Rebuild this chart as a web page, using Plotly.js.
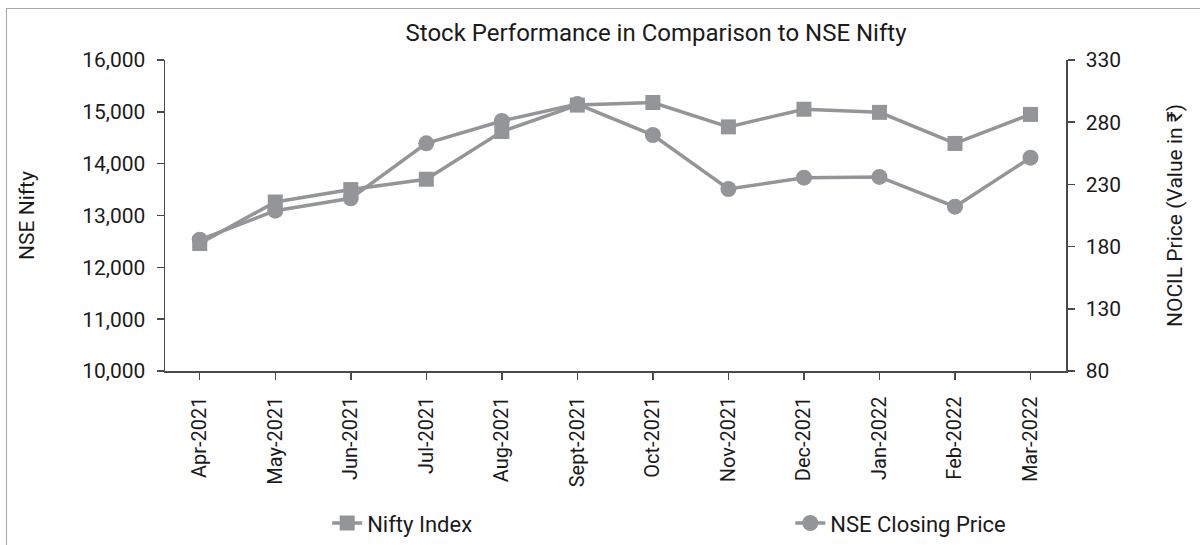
<!DOCTYPE html>
<html>
<head>
<meta charset="utf-8">
<script src="https://cdn.plot.ly/plotly-3.0.1.min.js"></script>
<style>
  html, body { margin: 0; padding: 0; background: #fff; }
  #wrap { position: relative; width: 1200px; height: 545px; overflow: hidden; }
  #chart { position: absolute; left: 0; top: 0; width: 1200px; height: 545px; }
  #frame { position: absolute; left: 6px; top: 8px; width: 1300px; height: 700px;
           border: 1px solid #a6a6a6; pointer-events: none; }
</style>
</head>
<body>
<div id="wrap">
  <div id="chart"></div>
  <div id="frame"></div>
</div>
<script>
const months = ["Apr-2021","May-2021","Jun-2021","Jul-2021","Aug-2021","Sept-2021",
                "Oct-2021","Nov-2021","Dec-2021","Jan-2022","Feb-2022","Mar-2022"];
const niftyIndex = [12460, 13260, 13500, 13700, 14620, 15130, 15180, 14710, 15050, 14990, 14390, 14950];
const nseClosing = [185.5, 208.9, 218.8, 263.0, 281.0, 294.6, 269.7, 226.3, 235.4, 236.0, 212.1, 251.5];
const leftTicks = [10000, 11000, 12000, 13000, 14000, 15000, 16000];
const rightTicks = [80, 130, 180, 230, 280, 330];

const grey = '#939598';
const axisCol = '#4a4a4a';
const font = 'Roboto, "Liberation Sans", sans-serif';
const ink = '#1a1a1a';

const traces = [
  {
    x: months, y: nseClosing, name: 'NSE Closing Price', yaxis: 'y2', legend: 'legend2',
    type: 'scatter', mode: 'lines+markers',
    line: { color: grey, width: 3.5 },
    marker: { symbol: 'circle', size: 16, color: grey }
  },
  {
    x: months, y: niftyIndex, name: 'Nifty Index', yaxis: 'y', legend: 'legend',
    type: 'scatter', mode: 'lines+markers',
    line: { color: grey, width: 3.5 },
    marker: { symbol: 'square', size: 15, color: grey }
  }
];

const tickFont = { family: font, size: 21, color: ink };
const xTickFont = { family: font, size: 20, color: ink };
const legendFont = { family: font, size: 22, color: ink };

const layout = {
  width: 1200, height: 545,
  margin: { l: 165, r: 134, t: 60, b: 174, autoexpand: false },
  paper_bgcolor: '#ffffff', plot_bgcolor: '#ffffff',
  font: { family: font, color: ink },
  title: {
    text: 'Stock Performance in Comparison to NSE Nifty',
    font: { family: font, size: 24, color: ink },
    x: 0.545, xanchor: 'center', xref: 'paper',
    y: 1, yref: 'container', yanchor: 'top', pad: { t: 24 }
  },
  xaxis: {
    type: 'category', range: [-0.46, 11.47], automargin: false,
    showline: true, linecolor: axisCol, linewidth: 1.5,
    ticks: 'outside', ticklen: 7, tickcolor: axisCol, tickwidth: 1.5, ticklabelstandoff: 9,
    tickangle: -90, tickfont: xTickFont, showgrid: false, zeroline: false
  },
  yaxis: {
    range: [10000, 16000], tickvals: leftTicks, tickformat: ',d', automargin: false,
    showline: true, linecolor: axisCol, linewidth: 1.5,
    ticks: 'outside', ticklen: 7, tickcolor: axisCol, tickwidth: 1.5, ticklabelstandoff: 7,
    tickfont: tickFont, showgrid: false, zeroline: false,
    title: { text: 'NSE Nifty', font: { family: font, size: 21, color: ink }, standoff: 42 }
  },
  yaxis2: {
    range: [80, 330], tickvals: rightTicks, overlaying: 'y', side: 'right', automargin: false,
    showline: true, linecolor: axisCol, linewidth: 1.5,
    ticks: 'outside', ticklen: 7, tickcolor: axisCol, tickwidth: 1.5, ticklabelstandoff: 7,
    tickfont: tickFont, showgrid: false, zeroline: false,
    title: { text: 'NOCIL Price (Value in ₹)', font: { family: font, size: 21, color: ink }, standoff: 47 }
  },
  showlegend: true,
  legend: {
    orientation: 'h', x: 0.18, xanchor: 'left', yref: 'container', y: 0.04, yanchor: 'middle',
    font: legendFont, bgcolor: 'rgba(0,0,0,0)'
  },
  legend2: {
    orientation: 'h', x: 0.694, xanchor: 'left', yref: 'container', y: 0.04, yanchor: 'middle',
    font: legendFont, bgcolor: 'rgba(0,0,0,0)'
  }
};

Plotly.newPlot('chart', traces, layout, { staticPlot: true });
</script>
</body>
</html>
